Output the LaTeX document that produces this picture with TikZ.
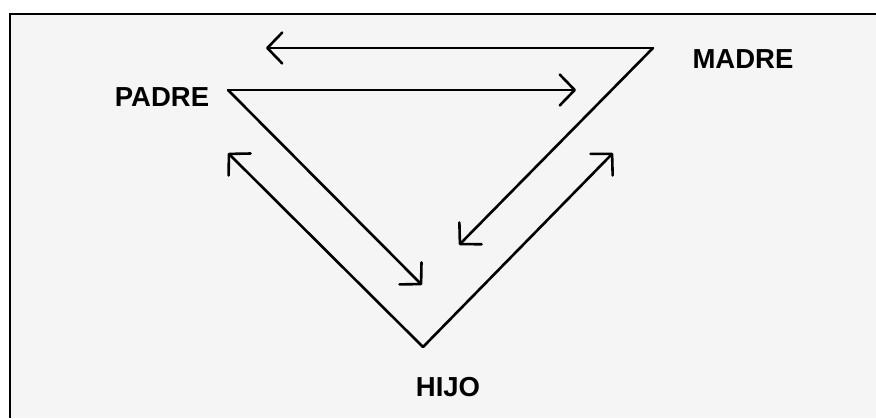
\documentclass[tikz,border=0pt]{standalone}
\usepackage{fontspec}
\setmainfont{Liberation Sans}
\usetikzlibrary{arrows.meta}
\begin{document}
\begin{tikzpicture}[x=1pt,y=-1pt,
  rel/.style={line width=2.6pt, line cap=round, line join=round},
  arr/.style={rel, -{Straight Barb[length=15pt,width=31pt,line join=round,line cap=round]}},
  lbl/.style={font=\fontsize{27.5}{27.5}\selectfont\bfseries, inner sep=0pt}]
\useasboundingbox (0,0) rectangle (876,418);
\fill[white] (0,0) rectangle (876,418);
\fill[black!4] (10,14) rectangle (876,418);
\draw[line width=2.2pt] (10,418) -- (10,14) -- (876,14);
% vertices
\coordinate (P) at (228,90);
\coordinate (M) at (653,48);
\coordinate (H) at (423,347);
% arrow ends
\coordinate (t1) at (266,48);
\coordinate (t2) at (576,90);
\coordinate (t3) at (422,285);
\coordinate (t4) at (228,153);
\coordinate (t5) at (459,245);
\coordinate (t6) at (613,153);
% labels
\node[lbl] (padre) at (162,97) {PADRE};
\node[lbl] (madre) at (743,59) {MADRE};
\node[lbl] (hijo) at (448,387) {HIJO};
% arrows
\draw[arr] (M) -- (t1);
\draw[arr] (P) -- (t2);
\draw[arr] (P) -- (t3);
\draw[arr] (H) -- (t4);
\draw[arr] (M) -- (t5);
\draw[arr] (H) -- (t6);
\end{tikzpicture}
\end{document}
